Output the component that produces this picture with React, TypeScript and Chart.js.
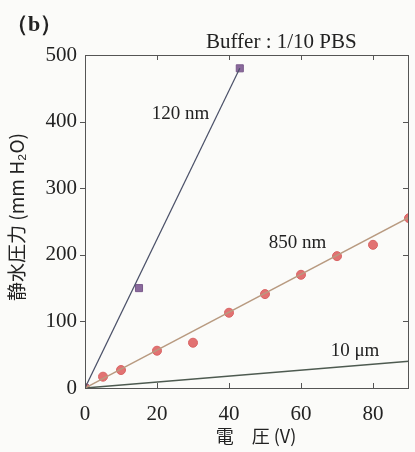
import React, { useEffect, useRef } from "react";
import { Chart, registerables } from "chart.js";

Chart.register(...registerables);

// ---- data ----
const volt120 = [0, 15, 43];
const press120 = [0, 150, 480];
const volt850 = [0, 5, 10, 20, 30, 40, 50, 60, 70, 80, 90];
const press850 = [0, 17, 27, 56, 68, 113, 141, 170, 198, 215, 255];
const fit120X = [0, 43];
const fit120Y = [0, 480];
const fit850X = [0, 90];
const fit850Y = [0, 256];
const fit10X = [0, 90];
const fit10Y = [0, 40];
const xTicks = [0, 20, 40, 60, 80];
const yTicks = [0, 100, 200, 300, 400, 500];
const seriesLabels = ["120 nm", "850 nm", "10 μm"];
const labelPos = [
  [26.5, 412],
  [59, 218],
  [75, 55],
];

const pts = (xs: number[], ys: number[]) => xs.map((x, i) => ({ x, y: ys[i] }));

const SERIF = '"Liberation Serif", "DejaVu Serif", serif';
const CJK = '"Noto Sans CJK JP", sans-serif';

const decor = {
  id: "decor",
  afterDraw(chart: any) {
    const { ctx, chartArea: a, scales } = chart;
    const xs = scales.x;
    const ys = scales.y;
    ctx.save();
    // frame
    ctx.strokeStyle = "#555";
    ctx.lineWidth = 1;
    ctx.strokeRect(a.left + 0.5, a.top + 0.5, a.right - a.left - 1, a.bottom - a.top);
    // inward ticks
    ctx.beginPath();
    xTicks.forEach((v) => {
      const px = Math.round(xs.getPixelForValue(v)) + 0.5;
      if (v === 0) return;
      ctx.moveTo(px, a.bottom);
      ctx.lineTo(px, a.bottom - 5);
      ctx.moveTo(px, a.top);
      ctx.lineTo(px, a.top + 5);
    });
    yTicks.forEach((v) => {
      const py = Math.round(ys.getPixelForValue(v)) + 0.5;
      if (v === 0 || v === 500) return;
      ctx.moveTo(a.right - 1, py);
      ctx.lineTo(a.right - 6, py);
      ctx.moveTo(a.left, py);
      ctx.lineTo(a.left - 5, py);
    });
    ctx.stroke();
    // series labels
    ctx.fillStyle = "#222";
    ctx.font = `19px ${SERIF}`;
    ctx.textAlign = "center";
    ctx.textBaseline = "middle";
    seriesLabels.forEach((t, i) => {
      ctx.fillText(t, xs.getPixelForValue(labelPos[i][0]), ys.getPixelForValue(labelPos[i][1]));
    });
    // titles
    ctx.font = `bold 22px ${SERIF}`;
    ctx.textAlign = "left";
    ctx.fillText("（b）", 6, 25);
    ctx.font = `21px ${SERIF}`;
    ctx.fillText("Buffer : 1/10 PBS", 206, 42);
    ctx.textAlign = "center";
    ctx.font = `18px ${CJK}`;
    ctx.fillText("電　圧 (V)", 256, 436);
    ctx.translate(17, 217);
    ctx.rotate(-Math.PI / 2);
    ctx.font = `19px ${CJK}`;
    ctx.fillText("静水圧力 (mm H₂O)", 0, 0);
    ctx.restore();
  },
};

export default function App() {
  const ref = useRef<HTMLCanvasElement>(null);
  useEffect(() => {
    if (!ref.current) return;
    const chart = new Chart(ref.current, {
      type: "scatter",
      data: {
        datasets: [
          {
            type: "line",
            data: pts(fit120X, fit120Y),
            borderColor: "#4a5068",
            borderWidth: 1.2,
            pointRadius: 0,
          },
          {
            type: "line",
            data: pts(fit850X, fit850Y),
            borderColor: "#b89a80",
            borderWidth: 1.5,
            pointRadius: 0,
          },
          {
            type: "line",
            data: pts(fit10X, fit10Y),
            borderColor: "#4d5a50",
            borderWidth: 1.5,
            pointRadius: 0,
          },
          {
            data: pts(volt850, press850),
            backgroundColor: "#e27272",
            borderColor: "#d86464",
            pointRadius: 4.5,
            pointStyle: "circle",
          },
          {
            data: pts(volt120, press120),
            backgroundColor: "#8a6a9c",
            borderColor: "#7a5a8c",
            pointRadius: 5,
            pointStyle: "rect",
          },
        ],
      } as any,
      options: {
        animation: false,
        responsive: false,
        events: [],
        layout: { padding: { top: 55, right: 2, left: 0, bottom: 0 } },
        plugins: { legend: { display: false }, tooltip: { enabled: false } },
        scales: {
          x: {
            type: "linear",
            min: 0,
            max: 90,
            afterFit: (s: any) => {
              s.height = 64;
            },
            afterBuildTicks: (s: any) => {
              s.ticks = xTicks.map((v) => ({ value: v }));
            },
            grid: { display: false, drawTicks: false },
            border: { display: false },
            ticks: {
              color: "#222",
              padding: 14,
              font: { family: SERIF, size: 21 },
            },
          },
          y: {
            type: "linear",
            min: 0,
            max: 500,
            afterFit: (s: any) => {
              s.width = 85;
            },
            afterBuildTicks: (s: any) => {
              s.ticks = yTicks.map((v) => ({ value: v }));
            },
            grid: { display: false, drawTicks: false },
            border: { display: false },
            ticks: {
              color: "#222",
              padding: 8,
              font: { family: SERIF, size: 21 },
            },
          },
        },
      },
      plugins: [decor],
    } as any);
    return () => chart.destroy();
  }, []);
  return (
    <div style={{ position: "fixed", left: 0, top: 0, width: 415, height: 452, background: "#fbfbf9" }}>
      <canvas ref={ref} width={415} height={452} style={{ width: 415, height: 452, display: "block" }} />
    </div>
  );
}
